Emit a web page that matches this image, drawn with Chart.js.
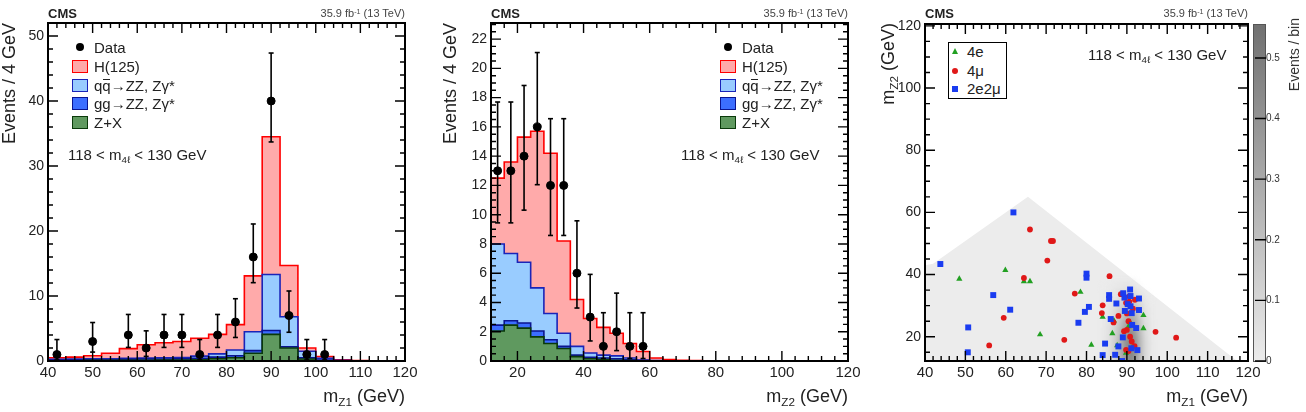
<!DOCTYPE html>
<html><head><meta charset="utf-8">
<script src="https://cdn.jsdelivr.net/npm/chart.js@4.4.1/dist/chart.umd.min.js"></script>
<style>
body{margin:0;background:#fff;}
#wrap{position:relative;width:1306px;height:412px;overflow:hidden;font-family:'Liberation Sans',Arial,sans-serif;color:#222;}
canvas{position:absolute;top:0;}
.t{position:absolute;white-space:nowrap;line-height:1;}
.t sub{font-size:65%;vertical-align:-0.35em;line-height:0;}
.t sup{font-size:65%;vertical-align:0.45em;line-height:0;}
.rot{position:absolute;white-space:nowrap;width:200px;text-align:right;transform-origin:0 0;transform:rotate(-90deg);}
.box{position:absolute;box-sizing:border-box;width:16px;height:13px;border:1.5px solid;}
.dot{position:absolute;width:8px;height:8px;border-radius:50%;background:#000;}
.ob{position:relative;}
.ob i{position:absolute;left:1px;right:1px;top:2px;border-top:1.2px solid #222;}
</style></head>
<body><div id="wrap">
<canvas id="c1" width="430" height="412" style="left:0"></canvas>
<canvas id="c2" width="440" height="412" style="left:430px"></canvas>
<canvas id="c3" width="436" height="412" style="left:870px"></canvas>

<!-- panel 1 texts -->
<div class="t" style="left:48px;top:7px;font-size:13px;font-weight:bold;">CMS</div>
<div class="t" style="right:901px;top:8px;font-size:11px;color:#444;">35.9 fb<sup>-1</sup> (13 TeV)</div>
<div class="rot" style="left:0;top:223px;font-size:18px;line-height:18px;">Events / 4 GeV</div>
<div class="t" style="right:901px;top:387px;font-size:18px;">m<sub>Z1</sub> (GeV)</div>
<div class="dot" style="left:76px;top:43px"></div>
<div class="t" style="left:94px;top:40px;font-size:15px;">Data</div>
<div class="box" style="left:72px;top:60px;border-color:#ff0000;background:#ffaaaa"></div>
<div class="t" style="left:94px;top:59px;font-size:15px;">H(125)</div>
<div class="box" style="left:72px;top:79px;border-color:#1a24b8;background:#99ccff"></div>
<div class="t" style="left:94px;top:78px;font-size:15px;">q<span class="ob">q<i></i></span>→ZZ, Zγ*</div>
<div class="box" style="left:72px;top:97px;border-color:#0a1490;background:#3c6eff"></div>
<div class="t" style="left:94px;top:96px;font-size:15px;">gg→ZZ, Zγ*</div>
<div class="box" style="left:72px;top:116px;border-color:#0a3a0a;background:#5f995f"></div>
<div class="t" style="left:94px;top:115px;font-size:15px;">Z+X</div>
<div class="t" style="left:68px;top:147px;font-size:15px;">118 &lt; m<sub>4ℓ</sub> &lt; 130 GeV</div>

<!-- panel 2 texts -->
<div class="t" style="left:491px;top:7px;font-size:13px;font-weight:bold;">CMS</div>
<div class="t" style="right:458px;top:8px;font-size:11px;color:#444;">35.9 fb<sup>-1</sup> (13 TeV)</div>
<div class="rot" style="left:441px;top:223px;font-size:18px;line-height:18px;">Events / 4 GeV</div>
<div class="t" style="right:458px;top:387px;font-size:18px;">m<sub>Z2</sub> (GeV)</div>
<div class="dot" style="left:724px;top:43px"></div>
<div class="t" style="left:742px;top:40px;font-size:15px;">Data</div>
<div class="box" style="left:720px;top:60px;border-color:#ff0000;background:#ffaaaa"></div>
<div class="t" style="left:742px;top:59px;font-size:15px;">H(125)</div>
<div class="box" style="left:720px;top:79px;border-color:#1a24b8;background:#99ccff"></div>
<div class="t" style="left:742px;top:78px;font-size:15px;">q<span class="ob">q<i></i></span>→ZZ, Zγ*</div>
<div class="box" style="left:720px;top:97px;border-color:#0a1490;background:#3c6eff"></div>
<div class="t" style="left:742px;top:96px;font-size:15px;">gg→ZZ, Zγ*</div>
<div class="box" style="left:720px;top:116px;border-color:#0a3a0a;background:#5f995f"></div>
<div class="t" style="left:742px;top:115px;font-size:15px;">Z+X</div>
<div class="t" style="left:681px;top:147px;font-size:15px;">118 &lt; m<sub>4ℓ</sub> &lt; 130 GeV</div>

<!-- panel 3 texts -->
<div class="t" style="left:925px;top:7px;font-size:13px;font-weight:bold;">CMS</div>
<div class="t" style="right:58px;top:8px;font-size:11px;color:#444;">35.9 fb<sup>-1</sup> (13 TeV)</div>
<div class="rot" style="left:879px;top:223px;font-size:18px;line-height:18px;">m<sub style="font-size:65%;vertical-align:-0.35em">Z2</sub> (GeV)</div>
<div class="t" style="right:58px;top:387px;font-size:18px;">m<sub>Z1</sub> (GeV)</div>
<div class="rot" style="left:1287px;top:218px;font-size:14px;line-height:14px;color:#333;">Events / bin</div>
<div style="position:absolute;left:948px;top:42px;width:59px;height:57px;box-sizing:border-box;border:1.5px solid #000;background:#fff;"></div>
<div style="position:absolute;left:952px;top:48px;width:0;height:0;border-left:3.5px solid transparent;border-right:3.5px solid transparent;border-bottom:6px solid #22a022;"></div>
<div class="t" style="left:967px;top:44px;font-size:15px;">4e</div>
<div style="position:absolute;left:952px;top:68px;width:6px;height:6px;border-radius:50%;background:#e01818;"></div>
<div class="t" style="left:967px;top:63px;font-size:15px;">4μ</div>
<div style="position:absolute;left:952px;top:86px;width:6px;height:6px;background:#1a3cf0;"></div>
<div class="t" style="left:967px;top:81px;font-size:15px;">2e2μ</div>
<div class="t" style="left:1088px;top:47px;font-size:15px;">118 &lt; m<sub>4ℓ</sub> &lt; 130 GeV</div>
</div>

<script>
// ---------------- data ----------------
// Panel 1 : m_Z1 distribution (stacked tops, events / 4 GeV)
const p1Edges = [40,44,48,52,56,60,64,68,72,76,80,84,88,92,96,100,104,108,112,116,120];
const p1TotalTop = [0.5,0.6,0.8,1.2,1.9,2.5,2.8,3.0,3.5,4.1,5.6,13.1,34.5,14.7,2.0,0.7,0.2,0.08,0.04,0.02];
const p1QQTop    = [0.25,0.3,0.35,0.35,0.4,0.45,0.5,0.55,0.75,1.1,1.7,4.5,13.3,6.8,1.5,0.4,0.12,0.05,0.02,0.01];
const p1GGTop    = [0.15,0.2,0.2,0.2,0.25,0.3,0.3,0.35,0.4,0.6,0.8,1.6,4.7,2.2,0.5,0.15,0.05,0.02,0.01,0.0];
const p1ZXTop    = [0.05,0.05,0.1,0.1,0.1,0.1,0.15,0.15,0.2,0.35,0.5,1.2,4.1,2.0,0.3,0.05,0.02,0.01,0,0];
const p1DataX  = [42,50,58,62,66,70,74,78,82,86,90,94,98,102];
const p1DataN  = [1,3,4,2,4,4,1,4,6,16,40,7,1,1];
const p1ErrLo  = [0.17,1.37,2.09,0.71,2.09,2.09,0.17,2.09,3.62,12.05,33.70,4.42,0.17,0.17];
const p1ErrHi  = [3.30,5.92,7.16,4.64,7.16,7.16,3.30,7.16,9.58,21.08,47.38,10.77,3.30,3.30];
const p1XTicks = [40,50,60,70,80,90,100,110,120];
const p1YTicks = [0,10,20,30,40,50];

// Panel 2 : m_Z2 distribution
const p2Edges = [12,16,20,24,28,32,36,40,44,48,52,56,60,64,68,72,76,80,84,88,92,96,100,104,108,112,116,120];
const p2TotalTop = [12.5,13.6,15.3,15.7,14.2,8.2,4.2,2.9,2.3,1.9,1.2,0.65,0.2,0.1,0.05,0.03,0.02,0.02,0.01,0.01,0.01,0.01,0.01,0,0,0,0];
const p2QQTop    = [8.0,7.35,6.75,5.0,3.25,1.9,1.0,0.55,0.4,0.35,0.2,0.07,0.03,0.02,0.01,0.01,0.01,0,0,0,0,0,0,0,0,0,0];
const p2GGTop    = [2.45,2.75,2.6,2.05,1.45,1.0,0.4,0.25,0.2,0.15,0.08,0.03,0.01,0,0,0,0,0,0,0,0,0,0,0,0,0,0];
const p2ZXTop    = [2.05,2.45,2.25,1.65,1.2,0.85,0.3,0.15,0.1,0.05,0.03,0.01,0,0,0,0,0,0,0,0,0,0,0,0,0,0,0];
const p2DataX  = [14,18,22,26,30,34,38,42,46,50,54,58];
const p2DataN  = [13,13,14,16,12,12,6,3,1,2,1,1];
const p2ErrLo  = [9.44,9.44,10.31,12.05,8.58,8.58,3.62,1.37,0.17,0.71,0.17,0.17];
const p2ErrHi  = [17.70,17.70,18.83,21.08,16.56,16.56,9.58,5.92,3.30,4.64,3.30,3.30];
const p2XTicks = [20,40,60,80,100,120];
const p2YTicks = [0,2,4,6,8,10,12,14,16,18,20,22];

// Panel 3 : m_Z2 vs m_Z1
const envX = [40,42,65.5,117.5];
const envY = [43,43.5,65,12];
const heatXEdges = [84,85,86,87,88,89,90,91,92,93,94,95,96];
const heatYEdges = [12,14,16,18,20,22,24,26,28,30,32,34,36,38];
const heatZ = [
 [.03,.05,.09,.15,.25,.36,.44,.44,.33,.18,.08,.04],
 [.03,.05,.10,.16,.27,.38,.47,.47,.35,.19,.09,.04],
 [.03,.05,.10,.16,.27,.38,.47,.47,.35,.19,.09,.04],
 [.03,.05,.10,.16,.27,.38,.46,.46,.34,.19,.09,.04],
 [.03,.05,.09,.15,.25,.36,.43,.43,.32,.17,.08,.03],
 [.03,.04,.08,.13,.22,.32,.39,.39,.29,.15,.07,.03],
 [.02,.04,.07,.12,.19,.28,.34,.34,.25,.13,.06,.03],
 [.02,.03,.06,.10,.16,.23,.28,.28,.21,.11,.05,.02],
 [.02,.03,.05,.08,.13,.18,.22,.22,.16,.09,.04,.02],
 [.01,.02,.04,.06,.10,.13,.16,.16,.12,.07,.03,.01],
 [.01,.02,.03,.04,.07,.09,.11,.11,.08,.04,.02,0],
 [.01,.01,.02,.03,.04,.05,.06,.06,.04,0,0,0],
 [0,.01,.01,.02,.02,.03,.03,.02,0,0,0,0]
];
const ev4eX = [48.5,59.9,64.5,66.0,78.5,68.5,81.2,84.0,86.8,86.4,87.6,94.1,94.1,90.8,90.4,91.2,89.8];
const ev4eY = [38.6,41.4,37.8,37.8,34.4,20.7,17.4,26.4,25.2,21.1,17.2,26.9,22.7,24.6,23.3,16.4,14.8];
const ev4muX = [66.0,71.2,71.7,70.3,64.5,59.5,55.9,74.5,77.1,85.7,84.0,83.8,86.7,87.9,88.5,89.8,90.6,92.0,90.0,90.4,89.3,90.0,90.8,91.2,89.8,90.4,91.9,97.1,102.2,91.5,90.6];
const ev4muY = [54.5,50.8,50.8,44.5,38.9,26.1,17.2,19.0,33.9,39.5,30.1,27.6,24.6,26.7,33.7,30.9,31.3,31.9,27.5,25.0,21.8,22.2,20.0,18.5,15.8,15.4,17.0,21.6,19.7,29.0,33.0];
const ev2e2muX = [61.9,43.8,56.9,61.1,50.7,50.6,80.0,80.0,80.6,79.6,78.0,85.6,85.6,86.0,84.6,84.0,87.4,87.1,89.1,89.4,90.8,90.9,93.0,93.0,89.5,90.9,91.2,89.0,91.1,92.6,88.8,87.9,91.3,92.3,90.2];
const ev2e2muY = [60.0,43.4,33.4,28.7,23.0,15.0,40.3,39.0,29.6,28.0,24.5,33.4,32.2,25.7,17.8,14.1,30.7,14.2,34.0,32.6,35.2,33.1,32.3,28.6,28.3,29.8,27.6,19.8,16.3,15.7,12.2,16.9,23.8,22.8,30.5];
const p3XTicks = [40,50,60,70,80,90,100,110,120];
const p3YTicks = [20,40,60,80,100,120];
const cbTicks = [0,0.1,0.2,0.3,0.4,0.5];
const cbMax = 0.556;

// ---------------- helpers ----------------
const FONT = "'Liberation Sans', Arial, sans-serif";
const histPts = (edges, vals) => { const o = vals.map((v,i)=>({x:edges[i], y:v})); o.push({x:edges[edges.length-1], y:vals[vals.length-1]}); return o; };
const errPts = (xs, lo, hi) => { const o=[]; xs.forEach((x,i)=>{o.push({x,y:lo[i]},{x,y:hi[i]},{x,y:null});}); return o; };
const pts = (xs, ys) => xs.map((x,i)=>({x, y:ys[i]}));
const grayFor = v => { const g = Math.round(236 - Math.min(v/cbMax,1)*(236-112)); return `rgb(${g},${g},${g})`; };

const frameTicks = {
  id:'frameTicks',
  afterDatasetsDraw(chart, args, o){
    const {ctx, chartArea:a} = chart; const xs=chart.scales.x, ys=chart.scales.y;
    const set=(s,step)=>{const r=[];const n0=Math.ceil(s.min/step-1e-6),n1=Math.floor(s.max/step+1e-6);for(let n=n0;n<=n1;n++)r.push(n*step);return r;};
    const isMaj=(arr,v)=>arr.some(m=>Math.abs(m-v)<1e-6);
    ctx.save(); ctx.strokeStyle='#000'; ctx.lineWidth=1.4; ctx.beginPath();
    for(const v of set(xs,o.xMinor)){const p=xs.getPixelForValue(v);const L=isMaj(o.xMajor,v)?10:5;ctx.moveTo(p,a.bottom);ctx.lineTo(p,a.bottom-L);ctx.moveTo(p,a.top);ctx.lineTo(p,a.top+L);}
    for(const v of set(ys,o.yMinor)){const p=ys.getPixelForValue(v);const L=isMaj(o.yMajor,v)?10:5;ctx.moveTo(a.left,p);ctx.lineTo(a.left+L,p);ctx.moveTo(a.right,p);ctx.lineTo(a.right-L,p);}
    ctx.stroke(); ctx.lineWidth=2; ctx.strokeRect(a.left,a.top,a.right-a.left,a.bottom-a.top); ctx.restore();
  }
};

function axisX(min,max,ticksArr,h){return {type:'linear',min,max,grid:{display:false,drawTicks:false},border:{display:false},
  ticks:{font:{family:FONT,size:15},color:'#222',padding:3,maxRotation:0,autoSkip:false,callback:v=>String(v)},
  afterBuildTicks:s=>{s.ticks=ticksArr.map(v=>({value:v}));}, afterFit:s=>{s.height=h;}};}
function axisY(min,max,ticksArr,w){return {type:'linear',min,max,grid:{display:false,drawTicks:false},border:{display:false},
  ticks:{font:{family:FONT,size:14},color:'#222',padding:4,autoSkip:false,callback:v=>String(v)},
  afterBuildTicks:s=>{s.ticks=ticksArr.map(v=>({value:v}));}, afterFit:s=>{s.width=w;}};}

function histChart(id, edges, tot, qq, gg, zx, dx, dn, lo, hi, xr, yr, xt, yt, L, W, R, minor){
  const hist = (data, fillC, lineC, order) => ({data:histPts(edges,data), stepped:'before', fill:'origin', backgroundColor:fillC, borderColor:lineC, borderWidth:1.6, pointRadius:0, order});
  return new Chart(document.getElementById(id), {
    type:'line',
    data:{datasets:[
      {data:pts(dx,dn), showLine:false, pointRadius:4, pointBackgroundColor:'#000', pointBorderColor:'#000', order:0},
      {data:errPts(dx,lo,hi), spanGaps:false, borderColor:'#000', borderWidth:1.6, pointStyle:'line', pointRadius:2.5, pointBorderColor:'#000', pointBorderWidth:1.6, fill:false, order:1},
      hist(zx,'#5f995f','#0a3a0a',2),
      hist(gg,'#3c6eff','#0a1490',3),
      hist(qq,'#99ccff','#1a24b8',4),
      hist(tot,'#ffaaaa','#ff0000',5)
    ]},
    options:{responsive:false, animation:false, events:[],
      layout:{padding:{left:0,top:23,right:W-R,bottom:0}},
      plugins:{legend:{display:false},tooltip:{enabled:false},frameTicks:minor},
      scales:{x:axisX(xr[0],xr[1],xt,51), y:axisY(yr[0],yr[1],yt,L)}},
    plugins:[frameTicks]
  });
}

histChart('c1', p1Edges, p1TotalTop, p1QQTop, p1GGTop, p1ZXTop, p1DataX, p1DataN, p1ErrLo, p1ErrHi,
  [40,120],[0,52], p1XTicks, p1YTicks, 48, 430, 405, {xMinor:2,yMinor:2,xMajor:p1XTicks,yMajor:p1YTicks});
histChart('c2', p2Edges, p2TotalTop, p2QQTop, p2GGTop, p2ZXTop, p2DataX, p2DataN, p2ErrLo, p2ErrHi,
  [12,120],[0,23.1], p2XTicks, p2YTicks, 61, 440, 418, {xMinor:4,yMinor:0.5,xMajor:p2XTicks,yMajor:p2YTicks});

// ---------- panel 3 ----------
const heatPlugin = {
  id:'heat',
  afterDatasetDraw(chart,args){
    if(args.index!==0) return;
    const {ctx, chartArea:a} = chart; const xs=chart.scales.x, ys=chart.scales.y;
    const off=document.createElement('canvas'); off.width=chart.width; off.height=chart.height;
    const oc=off.getContext('2d');
    heatZ.forEach((row,j)=>row.forEach((v,i)=>{ if(v<=0) return;
      const x0=xs.getPixelForValue(heatXEdges[i]), x1=xs.getPixelForValue(heatXEdges[i+1]);
      const yb=ys.getPixelForValue(j===0? ys.min-3 : heatYEdges[j]), yt=ys.getPixelForValue(heatYEdges[j+1]);
      oc.fillStyle=grayFor(v); oc.fillRect(x0,yt,x1-x0+0.6,yb-yt+0.6);}));
    ctx.save(); ctx.beginPath(); ctx.rect(a.left,a.top,a.right-a.left,a.bottom-a.top); ctx.clip();
    ctx.filter='blur(3px)'; ctx.drawImage(off,0,0); ctx.restore();
  }
};
const cbPlugin = {
  id:'cbar',
  afterDraw(chart){
    const s=chart.scales.cb; const {ctx, chartArea:a}=chart;
    const x0=a.right+5, w=12, yT=s.getPixelForValue(s.max), yB=s.getPixelForValue(s.min);
    const g=ctx.createLinearGradient(0,yB,0,yT); g.addColorStop(0,grayFor(0)); g.addColorStop(1,grayFor(cbMax));
    ctx.save(); ctx.fillStyle=g; ctx.fillRect(x0,yT,w,yB-yT);
    ctx.strokeStyle='#555'; ctx.lineWidth=1; ctx.strokeRect(x0+0.5,yT+0.5,w,yB-yT);
    ctx.strokeStyle='#000'; ctx.lineWidth=1.4; ctx.beginPath();
    for(const v of cbTicks){const y=s.getPixelForValue(v); ctx.moveTo(x0+2,y); ctx.lineTo(x0+w+1,y);} ctx.stroke(); ctx.restore();
  }
};
new Chart(document.getElementById('c3'), {
  type:'line',
  data:{datasets:[
    {data:pts(envX,envY), fill:'origin', backgroundColor:'#ececec', borderWidth:0, pointRadius:0, order:10},
    {data:pts(ev4eX,ev4eY), showLine:false, pointStyle:'triangle', pointRadius:3.6, pointBackgroundColor:'#22a022', pointBorderColor:'#22a022', pointBorderWidth:0, order:3},
    {data:pts(ev4muX,ev4muY), showLine:false, pointStyle:'circle', pointRadius:2.9, pointBackgroundColor:'#e01818', pointBorderColor:'#e01818', pointBorderWidth:0, order:2},
    {data:pts(ev2e2muX,ev2e2muY), showLine:false, pointStyle:'rect', pointRadius:4.2, pointBackgroundColor:'#1a3cf0', pointBorderColor:'#1a3cf0', pointBorderWidth:0, order:1}
  ]},
  options:{responsive:false, animation:false, events:[],
    layout:{padding:{left:0,top:23,right:26,bottom:0}},
    plugins:{legend:{display:false},tooltip:{enabled:false},frameTicks:{xMinor:2,yMinor:5,xMajor:p3XTicks,yMajor:p3YTicks}},
    scales:{
      x:axisX(40,120,p3XTicks,51),
      y:axisY(12.2,120.6,p3YTicks,55),
      cb:{type:'linear',position:'right',axis:'y',min:0,max:cbMax,grid:{display:false,drawTicks:false},border:{display:false},
        ticks:{font:{family:FONT,size:10},color:'#333',padding:18,autoSkip:false,callback:v=>String(v)},
        afterBuildTicks:s=>{s.ticks=cbTicks.map(v=>({value:v}));}, afterFit:s=>{s.width=32;}}
    }},
  plugins:[heatPlugin, frameTicks, cbPlugin]
});
</script>
</body></html>
